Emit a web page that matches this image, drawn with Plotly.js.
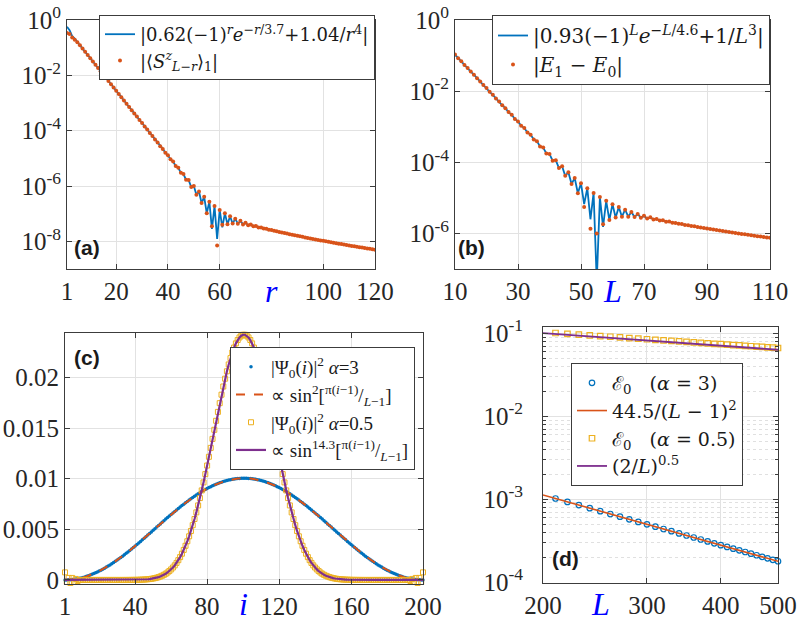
<!DOCTYPE html>
<html><head><meta charset="utf-8">
<script src="https://cdn.plot.ly/plotly-3.0.1.min.js"></script>
<style>body{margin:0;background:#fff}#chart{width:800px;height:624px}</style>
</head><body><div id="chart"></div>
<script>
// ---------- panel (a) ----------
const rA = [1,2,3,4,5,6,7,8,9,10,11,12,13,14,15,16,17,18,19,20,21,22,23,24,25,26,27,28,29,30,
31,32,33,34,35,36,37,38,39,40,41,42,43,44,45,46,47,48,49,50,51,52,53,54,55,56,57,58,59,60,
61,62,63,64,65,66,67,68,69,70,71,72,73,74,75,76,77,78,79,80,81,82,83,84,85,86,87,88,89,90,
91,92,93,94,95,96,97,98,99,100,101,102,103,104,105,106,107,108,109,110,111,112,113,114,115,116,117,118,119,120];
const fitA = [0.5668,0.4261,0.2628,0.2144,0.1588,0.1233,0.0931,0.0716,0.0543,0.0417,
0.0316,0.0243,0.01843,0.01412,0.01074,0.008225,0.006253,0.004791,0.003641,0.002792,
0.00212,0.001626,0.001234,0.0009476,0.0007181,0.0005524,0.0004178,0.0003221,0.000243,0.0001879,
0.0001413,0.0001097,8.206e-5,6.408e-5,4.762e-5,3.749e-5,2.759e-5,2.197e-5,1.594e-5,1.292e-5,
9.176e-6,7.618e-6,5.255e-6,4.52e-6,2.984e-6,2.703e-6,1.673e-6,1.635e-6,9.18e-7,1.005e-6,
4.86e-7,6.304e-7,2.408e-7,4.066e-7,1.033e-7,2.713e-7,2.79e-8,1.884e-7,1.222e-8,1.364e-7,
3.224e-8,1.031e-7,4.105e-8,8.105e-8,4.372e-8,6.591e-8,4.314e-8,5.51e-8,4.095e-8,4.709e-8,
3.806e-8,4.089e-8,3.495e-8,3.596e-8,3.19e-8,3.191e-8,2.902e-8,2.853e-8,2.637e-8,2.564e-8,
2.40e-8,2.315e-8,2.18e-8,2.098e-8,1.992e-8,1.901e-8,1.815e-8,1.734e-8,1.658e-8,1.585e-8,
1.517e-8,1.452e-8,1.39e-8,1.332e-8,1.277e-8,1.224e-8,1.175e-8,1.128e-8,1.083e-8,1.04e-8,
9.994e-9,9.608e-9,9.24e-9,8.89e-9,8.556e-9,8.238e-9,7.934e-9,7.644e-9,7.368e-9,7.103e-9,
6.851e-9,6.609e-9,6.379e-9,6.158e-9,5.946e-9,5.744e-9,5.55e-9,5.364e-9,5.186e-9,5.015e-9];
const dataA = [0.34,0.31,0.235,0.195,0.158,0.1233,0.0931,0.0716,0.0543,0.0417,
0.0316,0.0243,0.01843,0.01412,0.01074,0.008225,0.006253,0.004791,0.003641,0.002792,
0.00212,0.001626,0.001234,0.0009476,0.0007181,0.0005524,0.0004178,0.0003221,0.000243,0.0001879,
0.0001413,0.0001097,8.206e-5,6.408e-5,4.762e-5,3.749e-5,2.759e-5,2.197e-5,1.594e-5,1.292e-5,
9.176e-6,7.618e-6,5.255e-6,4.52e-6,2.984e-6,2.703e-6,1.673e-6,1.635e-6,9.18e-7,1.005e-6,
4.86e-7,6.304e-7,2.408e-7,4.066e-7,1.033e-7,2.713e-7,3.5e-8,1.884e-7,7.0e-9,1.364e-7,
4.0e-8,1.031e-7,4.105e-8,8.105e-8,4.372e-8,6.591e-8,4.314e-8,5.51e-8,4.095e-8,4.709e-8,
3.806e-8,4.089e-8,3.495e-8,3.596e-8,3.19e-8,3.191e-8,2.902e-8,2.853e-8,2.637e-8,2.564e-8,
2.40e-8,2.315e-8,2.18e-8,2.098e-8,1.992e-8,1.901e-8,1.815e-8,1.734e-8,1.658e-8,1.585e-8,
1.517e-8,1.452e-8,1.39e-8,1.332e-8,1.277e-8,1.224e-8,1.175e-8,1.128e-8,1.083e-8,1.04e-8,
9.994e-9,9.608e-9,9.24e-9,8.89e-9,8.556e-9,8.238e-9,7.934e-9,7.644e-9,7.368e-9,7.103e-9,
6.851e-9,6.609e-9,6.379e-9,6.158e-9,5.946e-9,5.744e-9,5.55e-9,5.364e-9,5.186e-9,5.015e-9];

// ---------- panel (b) ----------
const LB = [10,11,12,13,14,15,16,17,18,19,20,21,22,23,24,25,26,27,28,29,30,31,32,33,34,35,36,37,38,39,
40,41,42,43,44,45,46,47,48,49,50,51,52,53,54,55,56,57,58,59,60,61,62,63,64,65,66,67,68,69,
70,71,72,73,74,75,76,77,78,79,80,81,82,83,84,85,86,87,88,89,90,91,92,93,94,95,96,97,98,99,
100,101,102,103,104,105,106,107,108,109,110];
const fitB = [0.1068,0.08436,0.06906,0.05464,0.0447,0.03538,0.02895,0.0229,0.01876,0.01481,
0.01216,0.009574,0.007885,0.006187,0.005116,0.003995,0.003323,0.002577,0.002161,0.00166,
0.001406,0.0010675,0.0009165,0.0006851,0.000599,0.0004383,0.0003928,0.0002791,0.0002587,0.0001766,
0.0001713,1.1077e-4,1.1431e-4,6.853e-5,7.701e-5,4.155e-5,5.253e-5,2.437e-5,3.64e-5,1.351e-5,
2.569e-5,6.695e-6,1.8565e-5,2.499e-6,1.3766e-5,4.4e-8,1.0495e-5,1.537e-6,8.233e-6,2.368e-6,
6.643e-6,2.787e-6,5.499e-6,2.951e-6,4.659e-6,2.962e-6,4.025e-6,2.886e-6,3.534e-6,2.759e-6,
3.144e-6,2.61e-6,2.827e-6,2.452e-6,2.564e-6,2.293e-6,2.34e-6,2.14e-6,2.147e-6,1.996e-6,
1.979e-6,1.861e-6,1.831e-6,1.735e-6,1.698e-6,1.619e-6,1.579e-6,1.513e-6,1.472e-6,1.414e-6,
1.375e-6,1.327e-6,1.284e-6,1.243e-6,1.204e-6,1.166e-6,1.13e-6,1.096e-6,1.062e-6,1.031e-6,
1.0e-6,9.706e-7,9.423e-7,9.151e-7,8.89e-7,8.638e-7,8.396e-7,8.163e-7,7.938e-7,7.722e-7,7.513e-7];
const dataB = [0.1068,0.08436,0.06906,0.05464,0.0447,0.03538,0.02895,0.0229,0.01876,0.01481,
0.01216,0.009574,0.007885,0.006187,0.005116,0.003995,0.003323,0.002577,0.002161,0.00166,
0.001406,0.0010675,0.0009165,0.0006851,0.000599,0.0004383,0.0003928,0.0002791,0.0002587,0.0001766,
0.0001713,1.1077e-4,1.1431e-4,6.853e-5,7.701e-5,4.155e-5,5.253e-5,2.437e-5,3.64e-5,1.351e-5,
2.569e-5,5.5e-6,1.8565e-5,1.35e-6,1.3766e-5,1.0e-6,1.0495e-5,1.8e-6,8.233e-6,2.368e-6,
6.643e-6,2.787e-6,5.499e-6,2.951e-6,4.659e-6,2.962e-6,4.025e-6,2.886e-6,3.534e-6,2.759e-6,
3.144e-6,2.61e-6,2.827e-6,2.452e-6,2.564e-6,2.293e-6,2.34e-6,2.14e-6,2.147e-6,1.996e-6,
1.979e-6,1.861e-6,1.831e-6,1.735e-6,1.698e-6,1.619e-6,1.579e-6,1.513e-6,1.472e-6,1.414e-6,
1.375e-6,1.327e-6,1.284e-6,1.243e-6,1.204e-6,1.166e-6,1.13e-6,1.096e-6,1.062e-6,1.031e-6,
1.0e-6,9.706e-7,9.423e-7,9.151e-7,8.89e-7,8.638e-7,8.396e-7,8.163e-7,7.938e-7,7.722e-7,7.513e-7];

// ---------- panel (c) ----------
const iC = [1,2,3,4,5,6,7,8,9,10,11,12,13,14,15,16,17,18,19,20,21,22,23,24,25,26,27,28,29,30,
31,32,33,34,35,36,37,38,39,40,41,42,43,44,45,46,47,48,49,50,51,52,53,54,55,56,57,58,59,60,
61,62,63,64,65,66,67,68,69,70,71,72,73,74,75,76,77,78,79,80,81,82,83,84,85,86,87,88,89,90,
91,92,93,94,95,96,97,98,99,100,101,102,103,104,105,106,107,108,109,110,111,112,113,114,115,116,117,118,119,120,
121,122,123,124,125,126,127,128,129,130,131,132,133,134,135,136,137,138,139,140,141,142,143,144,145,146,147,148,149,150,
151,152,153,154,155,156,157,158,159,160,161,162,163,164,165,166,167,168,169,170,171,172,173,174,175,176,177,178,179,180,
181,182,183,184,185,186,187,188,189,190,191,192,193,194,195,196,197,198,199,200];
const psiAlpha3 = [0,0.0000025,0.00001,0.0000225,0.00004,0.0000625,0.00009,0.000122,0.000159,0.000202,
0.000248,0.0003,0.000356,0.000417,0.000483,0.000553,0.000628,0.000707,0.00079,0.000877,
0.000969,0.001065,0.001164,0.001268,0.001375,0.001486,0.0016,0.001718,0.001839,0.001963,
0.002091,0.002221,0.002354,0.00249,0.002628,0.002768,0.002911,0.003056,0.003203,0.003352,
0.003502,0.003654,0.003808,0.003962,0.004118,0.004274,0.004431,0.004589,0.004747,0.004906,
0.005064,0.005223,0.005382,0.00554,0.005697,0.005854,0.00601,0.006165,0.006319,0.006471,
0.006623,0.006772,0.00692,0.007066,0.00721,0.007352,0.007491,0.007628,0.007762,0.007894,
0.008023,0.008149,0.008272,0.008391,0.008507,0.00862,0.008729,0.008834,0.008935,0.009033,
0.009127,0.009216,0.009302,0.009383,0.00946,0.009532,0.0096,0.009663,0.009722,0.009776,
0.009825,0.00987,0.009909,0.009944,0.009974,0.009999,0.010019,0.010034,0.010044,0.010049,
0.010049,0.010044,0.010034,0.010019,0.009999,0.009974,0.009944,0.009909,0.00987,0.009825,
0.009776,0.009722,0.009663,0.0096,0.009532,0.00946,0.009383,0.009302,0.009216,0.009127,
0.009033,0.008935,0.008834,0.008729,0.00862,0.008507,0.008391,0.008272,0.008149,0.008023,
0.007894,0.007762,0.007628,0.007491,0.007352,0.00721,0.007066,0.00692,0.006772,0.006623,
0.006471,0.006319,0.006165,0.00601,0.005854,0.005697,0.00554,0.005382,0.005223,0.005064,
0.004906,0.004747,0.004589,0.004431,0.004274,0.004118,0.003962,0.003808,0.003654,0.003502,
0.003352,0.003203,0.003056,0.002911,0.002768,0.002628,0.00249,0.002354,0.002221,0.002091,
0.001963,0.001839,0.001718,0.0016,0.001486,0.001375,0.001268,0.001164,0.001065,0.000969,
0.000877,0.00079,0.000707,0.000628,0.000553,0.000483,0.000417,0.000356,0.0003,0.000248,
0.000202,0.000159,0.000122,0.00009,0.0000625,0.00004,0.0000225,0.00001,0.0000025,0];
const sin2Fit = [0,0.0000025,0.00001,0.0000225,0.00004,0.0000625,0.00009,0.000122,0.000159,0.000202,
0.000248,0.0003,0.000356,0.000417,0.000483,0.000553,0.000628,0.000707,0.00079,0.000877,
0.000969,0.001065,0.001164,0.001268,0.001375,0.001486,0.0016,0.001718,0.001839,0.001963,
0.002091,0.002221,0.002354,0.00249,0.002628,0.002768,0.002911,0.003056,0.003203,0.003352,
0.003502,0.003654,0.003808,0.003962,0.004118,0.004274,0.004431,0.004589,0.004747,0.004906,
0.005064,0.005223,0.005382,0.00554,0.005697,0.005854,0.00601,0.006165,0.006319,0.006471,
0.006623,0.006772,0.00692,0.007066,0.00721,0.007352,0.007491,0.007628,0.007762,0.007894,
0.008023,0.008149,0.008272,0.008391,0.008507,0.00862,0.008729,0.008834,0.008935,0.009033,
0.009127,0.009216,0.009302,0.009383,0.00946,0.009532,0.0096,0.009663,0.009722,0.009776,
0.009825,0.00987,0.009909,0.009944,0.009974,0.009999,0.010019,0.010034,0.010044,0.010049,
0.010049,0.010044,0.010034,0.010019,0.009999,0.009974,0.009944,0.009909,0.00987,0.009825,
0.009776,0.009722,0.009663,0.0096,0.009532,0.00946,0.009383,0.009302,0.009216,0.009127,
0.009033,0.008935,0.008834,0.008729,0.00862,0.008507,0.008391,0.008272,0.008149,0.008023,
0.007894,0.007762,0.007628,0.007491,0.007352,0.00721,0.007066,0.00692,0.006772,0.006623,
0.006471,0.006319,0.006165,0.00601,0.005854,0.005697,0.00554,0.005382,0.005223,0.005064,
0.004906,0.004747,0.004589,0.004431,0.004274,0.004118,0.003962,0.003808,0.003654,0.003502,
0.003352,0.003203,0.003056,0.002911,0.002768,0.002628,0.00249,0.002354,0.002221,0.002091,
0.001963,0.001839,0.001718,0.0016,0.001486,0.001375,0.001268,0.001164,0.001065,0.000969,
0.000877,0.00079,0.000707,0.000628,0.000553,0.000483,0.000417,0.000356,0.0003,0.000248,
0.000202,0.000159,0.000122,0.00009,0.0000625,0.00004,0.0000225,0.00001,0.0000025,0];
const psiAlpha05 = [0.00075,-0.0002,0.0002,-0.0003,0.0002,-0.0002,0.0001,-0.0001,0,0,
0,0,0,0,0,0,0,0,0,0,
0,0,0,0,0,0,0,0,0,0,
0.0000003,0.0000005,0.0000008,0.0000011,0.0000017,0.0000024,0.0000034,0.0000049,0.0000068,0.0000094,
0.0000129,0.0000175,0.0000235,0.0000312,0.0000411,0.0000536,0.0000695,0.0000892,0.0001136,0.0001437,
0.0001804,0.000225,0.000279,0.000343,0.000419,0.0005085,0.000614,0.000736,0.000878,0.0010415,
0.001229,0.001442,0.001683,0.001954,0.002256,0.002593,0.002965,0.003375,0.003824,0.004312,
0.004841,0.005412,0.006023,0.006674,0.007363,0.008088,0.008847,0.009638,0.010458,0.011304,
0.012169,0.01305,0.013941,0.014837,0.015728,0.016606,0.017468,0.018306,0.019115,0.019887,
0.020615,0.021293,0.021915,0.022474,0.022964,0.023376,0.023708,0.02396,0.02413,0.024228,
0.024228,0.02413,0.02396,0.023708,0.023376,0.022964,0.022474,0.021915,0.021293,0.020615,
0.019887,0.019115,0.018306,0.017468,0.016606,0.015728,0.014837,0.013941,0.01305,0.012169,
0.011304,0.010458,0.009638,0.008847,0.008088,0.007363,0.006674,0.006023,0.005412,0.004841,
0.004312,0.003824,0.003375,0.002965,0.002593,0.002256,0.001954,0.001683,0.001442,0.001229,
0.0010415,0.000878,0.000736,0.000614,0.0005085,0.000419,0.000343,0.000279,0.000225,0.0001804,
0.0001437,0.0001136,0.0000892,0.0000695,0.0000536,0.0000411,0.0000312,0.0000235,0.0000175,0.0000129,
0.0000094,0.0000068,0.0000049,0.0000034,0.0000024,0.0000017,0.0000011,0.0000008,0.0000005,0.0000003,
0,0,0,0,0,0,0,0,0,0,
0,0,0,0,0,0,0,0,0,0,
0,0,-0.0001,0.0001,-0.0002,0.0002,-0.0003,0.0002,-0.0002,0.00075];
const sin143Fit = [0,0,0,0,0,0,0,0,0,0,
0,0,0,0,0,0,0,0,0,0,
0,0,0,0,0,0,0,0,0,0,
0.0000003,0.0000005,0.0000008,0.0000011,0.0000017,0.0000024,0.0000034,0.0000049,0.0000068,0.0000094,
0.0000129,0.0000175,0.0000235,0.0000312,0.0000411,0.0000536,0.0000695,0.0000892,0.0001136,0.0001437,
0.0001804,0.000225,0.000279,0.000343,0.000419,0.0005085,0.000614,0.000736,0.000878,0.0010415,
0.001229,0.001442,0.001683,0.001954,0.002256,0.002593,0.002965,0.003375,0.003824,0.004312,
0.004841,0.005412,0.006023,0.006674,0.007363,0.008088,0.008847,0.009638,0.010458,0.011304,
0.012169,0.01305,0.013941,0.014837,0.015728,0.016606,0.017468,0.018306,0.019115,0.019887,
0.020615,0.021293,0.021915,0.022474,0.022964,0.023376,0.023708,0.02396,0.02413,0.024228,
0.024228,0.02413,0.02396,0.023708,0.023376,0.022964,0.022474,0.021915,0.021293,0.020615,
0.019887,0.019115,0.018306,0.017468,0.016606,0.015728,0.014837,0.013941,0.01305,0.012169,
0.011304,0.010458,0.009638,0.008847,0.008088,0.007363,0.006674,0.006023,0.005412,0.004841,
0.004312,0.003824,0.003375,0.002965,0.002593,0.002256,0.001954,0.001683,0.001442,0.001229,
0.0010415,0.000878,0.000736,0.000614,0.0005085,0.000419,0.000343,0.000279,0.000225,0.0001804,
0.0001437,0.0001136,0.0000892,0.0000695,0.0000536,0.0000411,0.0000312,0.0000235,0.0000175,0.0000129,
0.0000094,0.0000068,0.0000049,0.0000034,0.0000024,0.0000017,0.0000011,0.0000008,0.0000005,0.0000003,
0,0,0,0,0,0,0,0,0,0,
0,0,0,0,0,0,0,0,0,0,
0,0,0,0,0,0,0,0,0,0];

// ---------- panel (d) ----------
const LD = [200,210,220,230,240,250,260,270,280,290,300,310,320,330,340,350,360,370,380,390,400,410,420,430,440,450,460,470,480,490,500];
const E0alpha3 = [1.1237e-3,1.0188e-3,9.278e-4,8.486e-4,7.79e-4,7.177e-4,6.634e-4,6.15e-4,5.717e-4,5.328e-4,
4.978e-4,4.661e-4,4.373e-4,4.111e-4,3.872e-4,3.653e-4,3.453e-4,3.268e-4,3.098e-4,2.941e-4,
2.795e-4,2.66e-4,2.535e-4,2.418e-4,2.309e-4,2.207e-4,2.112e-4,2.023e-4,1.94e-4,1.861e-4,1.787e-4];
const fitD3 = [1.1237e-3,1.0188e-3,9.278e-4,8.486e-4,7.79e-4,7.177e-4,6.634e-4,6.15e-4,5.717e-4,5.328e-4,
4.978e-4,4.661e-4,4.373e-4,4.111e-4,3.872e-4,3.653e-4,3.453e-4,3.268e-4,3.098e-4,2.941e-4,
2.795e-4,2.66e-4,2.535e-4,2.418e-4,2.309e-4,2.207e-4,2.112e-4,2.023e-4,1.94e-4,1.861e-4,1.787e-4];
const E0alpha05 = [0.103,0.1006,0.0984,0.0963,0.0943,0.0924,0.0907,0.089,0.0875,0.086,
0.0846,0.0833,0.082,0.0808,0.0797,0.0786,0.0775,0.0765,0.0755,0.0746,
0.0737,0.0728,0.072,0.0712,0.0704,0.0697,0.069,0.0683,0.0676,0.067,0.0664];
const fitD05 = [0.1,0.09759,0.09535,0.09325,0.09129,0.08944,0.08771,0.08607,0.08452,0.08305,
0.08165,0.08032,0.07906,0.07785,0.0767,0.07559,0.07454,0.07352,0.07255,0.07161,
0.07071,0.06984,0.06901,0.0682,0.06742,0.06667,0.06594,0.06523,0.06455,0.06389,0.06325];

// ---------- styling ----------
const C_BLUE='#0072BD', C_RED='#D95319', C_YEL='#EDB120', C_PUR='#7E2F8E';
const SERIF='Liberation Serif, Times New Roman, serif';
const LEGSERIF='DejaVu Serif, serif';
const SANS='Liberation Sans, Arial, sans-serif';
const FRAME='#3c3c3c', GRID='#e2e2e2';

function ax(extra){
  return Object.assign({showline:true,linecolor:FRAME,linewidth:1,mirror:'ticks',
    ticks:'inside',ticklen:5,tickcolor:FRAME,showgrid:true,gridcolor:GRID,gridwidth:1,
    zeroline:false,fixedrange:true,tickfont:{family:SERIF,size:25,color:'#262626'}},extra);
}
const pow = s => '10<sup>'+s+'</sup>';

const traces = [
  {x:rA,y:fitA,mode:'lines',line:{color:C_BLUE,width:1.8},xaxis:'x',yaxis:'y',legend:'legend',
   name:'|0.62(−1)<sup><i>r</i></sup><i>e</i><sup>−<i>r</i>/3.7</sup>+1.04/<i>r</i><sup>4</sup>|'},
  {x:rA,y:dataA,mode:'markers',marker:{color:C_RED,size:4},xaxis:'x',yaxis:'y',legend:'legend',
   name:'|⟨<i>S</i><sup><i>z</i></sup><sub><i>L</i>−<i>r</i></sub>⟩<sub>1</sub>|'},

  {x:LB,y:fitB,mode:'lines',line:{color:C_BLUE,width:1.8},xaxis:'x2',yaxis:'y2',legend:'legend2',
   name:'|0.93(−1)<sup><i>L</i></sup><i>e</i><sup>−<i>L</i>/4.6</sup>+1/<i>L</i><sup>3</sup>|'},
  {x:LB,y:dataB,mode:'markers',marker:{color:C_RED,size:4},xaxis:'x2',yaxis:'y2',legend:'legend2',
   name:'|<i>E</i><sub>1</sub> − <i>E</i><sub>0</sub>|'},

  {x:iC,y:psiAlpha3,mode:'markers',marker:{color:C_BLUE,size:3.5},xaxis:'x3',yaxis:'y3',legend:'legend3',cliponaxis:false,
   name:'|Ψ<sub>0</sub>(<i>i</i>)|<sup>2</sup> <i>α</i>=3'},
  {x:iC,y:sin2Fit,mode:'lines',line:{color:C_RED,width:2,dash:'dash'},xaxis:'x3',yaxis:'y3',legend:'legend3',
   name:'∝ sin<sup>2</sup>[<sup>π(<i>i</i>−1)</sup>/<sub><i>L</i>−1</sub>]'},
  {x:iC,y:psiAlpha05,mode:'markers',marker:{color:C_YEL,size:5,symbol:'square-open',line:{width:1,color:C_YEL}},xaxis:'x3',yaxis:'y3',legend:'legend3',cliponaxis:false,
   name:'|Ψ<sub>0</sub>(<i>i</i>)|<sup>2</sup> <i>α</i>=0.5'},
  {x:iC,y:sin143Fit,mode:'lines',line:{color:C_PUR,width:2.2},xaxis:'x3',yaxis:'y3',legend:'legend3',
   name:'∝ sin<sup>14.3</sup>[<sup>π(<i>i</i>−1)</sup>/<sub><i>L</i>−1</sub>]'},

  {x:LD,y:E0alpha3,mode:'markers',marker:{color:C_BLUE,size:5.5,symbol:'circle-open',line:{width:1.2,color:C_BLUE}},xaxis:'x4',yaxis:'y4',legend:'legend4',cliponaxis:false,
   name:'ℰ<sub>0</sub>\u00a0\u00a0\u00a0(<i>α</i> = 3)'},
  {x:LD,y:fitD3,mode:'lines',line:{color:C_RED,width:1.6},xaxis:'x4',yaxis:'y4',legend:'legend4',
   name:'44.5/(<i>L</i> − 1)<sup>2</sup>'},
  {x:LD,y:E0alpha05,mode:'markers',marker:{color:C_YEL,size:5.5,symbol:'square-open',line:{width:1.2,color:C_YEL}},xaxis:'x4',yaxis:'y4',legend:'legend4',cliponaxis:false,
   name:'ℰ<sub>0</sub>\u00a0\u00a0\u00a0(<i>α</i> = 0.5)'},
  {x:LD,y:fitD05,mode:'lines',line:{color:C_PUR,width:1.8},xaxis:'x4',yaxis:'y4',legend:'legend4',
   name:'(2/<i>L</i>)<sup>0.5</sup>'}
];

const legBase = {bgcolor:'#ffffff',bordercolor:'#3c3c3c',borderwidth:1,
  font:{family:LEGSERIF,size:19,color:'#1a1a1a'},tracegroupgap:0,itemwidth:30};

const minorD = [2e-4,3e-4,4e-4,5e-4,6e-4,7e-4,8e-4,9e-4,2e-3,3e-3,4e-3,5e-3,6e-3,7e-3,8e-3,9e-3,2e-2,3e-2,4e-2,5e-2,6e-2,7e-2,8e-2,9e-2];

const layout = {
  width:800,height:624,margin:{l:0,r:0,t:0,b:0},
  paper_bgcolor:'#fff',plot_bgcolor:'#fff',showlegend:true,
  xaxis: ax({domain:[67/800,375/800],range:[1,120],tickmode:'array',
    tickvals:[1,20,40,60,100,120],ticktext:['1','20','40','60','100','120'],anchor:'y'}),
  yaxis: ax({domain:[1-269/624,1-20/624],type:'log',range:[-9,0],tickmode:'array',
    tickvals:[1,1e-2,1e-4,1e-6,1e-8],ticktext:[pow('0'),pow('-2'),pow('-4'),pow('-6'),pow('-8')],anchor:'x'}),
  xaxis2: ax({domain:[455/800,770/800],range:[10,110],tickmode:'array',
    tickvals:[10,30,50,70,90,110],ticktext:['10','30','50','70','90','110'],anchor:'y2'}),
  yaxis2: ax({domain:[1-269/624,1-20/624],type:'log',range:[-7,0],tickmode:'array',
    tickvals:[1,1e-2,1e-4,1e-6],ticktext:[pow('0'),pow('-2'),pow('-4'),pow('-6')],anchor:'x2'}),
  xaxis3: ax({domain:[65/800,423/800],range:[1,200],tickmode:'array',
    tickvals:[1,40,80,120,160,200],ticktext:['1','40','80','120','160','200'],anchor:'y3'}),
  yaxis3: ax({domain:[1-584/624,1-333/624],range:[-0.0004,0.0244],tickmode:'array',
    tickvals:[0,0.005,0.01,0.015,0.02],ticktext:['0','0.005','0.01','0.015','0.02'],anchor:'x3'}),
  xaxis4: ax({domain:[543/800,778/800],type:'log',range:[Math.log10(200),Math.log10(500)],tickmode:'array',
    tickvals:[200,300,400,500],ticktext:['200','300','400','500'],anchor:'y4'}),
  yaxis4: ax({domain:[1-583/624,1-327/624],type:'log',range:[-4.01,-0.925],tickmode:'array',
    tickvals:[0.1,0.01,0.001,0.0001],ticktext:[pow('-1'),pow('-2'),pow('-3'),pow('-4')],anchor:'x4',
    ticklabelstandoff:14,
    minor:{tickmode:'array',tickvals:minorD,showgrid:true,gridcolor:'#e0e0e0',griddash:'dot',ticks:'inside',ticklen:3,tickcolor:FRAME}}),
  legend: Object.assign({},legBase,{x:375/800,xanchor:'right',y:1-15/624,yanchor:'top',
    font:{family:LEGSERIF,size:18,color:'#1a1a1a'}}),
  legend2: Object.assign({},legBase,{x:770/800,xanchor:'right',y:1-15/624,yanchor:'top',
    font:{family:LEGSERIF,size:20,color:'#1a1a1a'}}),
  legend3: Object.assign({},legBase,{x:415/800,xanchor:'right',y:1-347/624,yanchor:'top',
    font:{family:SERIF,size:19,color:'#1a1a1a'}}),
  legend4: Object.assign({},legBase,{x:571/800,xanchor:'left',y:1-363/624,yanchor:'top'}),
  annotations:[
    {text:'<b>(a)</b>',xref:'paper',yref:'paper',x:72/800,y:1-248/624,xanchor:'left',yanchor:'middle',showarrow:false,font:{family:SANS,size:21,color:'#1a1a1a'}},
    {text:'<b>(b)</b>',xref:'paper',yref:'paper',x:456/800,y:1-248/624,xanchor:'left',yanchor:'middle',showarrow:false,font:{family:SANS,size:21,color:'#1a1a1a'}},
    {text:'<b>(c)</b>',xref:'paper',yref:'paper',x:72/800,y:1-357/624,xanchor:'left',yanchor:'middle',showarrow:false,font:{family:SANS,size:21,color:'#1a1a1a'}},
    {text:'<b>(d)</b>',xref:'paper',yref:'paper',x:550/800,y:1-558/624,xanchor:'left',yanchor:'middle',showarrow:false,font:{family:SANS,size:21,color:'#1a1a1a'}},
    {text:'<i>r</i>',xref:'x',yref:'paper',x:80,y:1-291/624,xanchor:'center',yanchor:'middle',showarrow:false,font:{family:SERIF,size:32,color:'#0000ff'}},
    {text:'<i>L</i>',xref:'x2',yref:'paper',x:60,y:1-291/624,xanchor:'center',yanchor:'middle',showarrow:false,font:{family:SERIF,size:32,color:'#0000ff'}},
    {text:'<i>i</i>',xref:'x3',yref:'paper',x:100,y:1-604/624,xanchor:'center',yanchor:'middle',showarrow:false,font:{family:SERIF,size:32,color:'#0000ff'}},
    {text:'<i>L</i>',xref:'x4',yref:'paper',x:Math.log10(250),y:1-604/624,xanchor:'center',yanchor:'middle',showarrow:false,font:{family:SERIF,size:32,color:'#0000ff'}}
  ]
};

Plotly.newPlot('chart',traces,layout,{displayModeBar:false,staticPlot:true});
</script></body></html>
